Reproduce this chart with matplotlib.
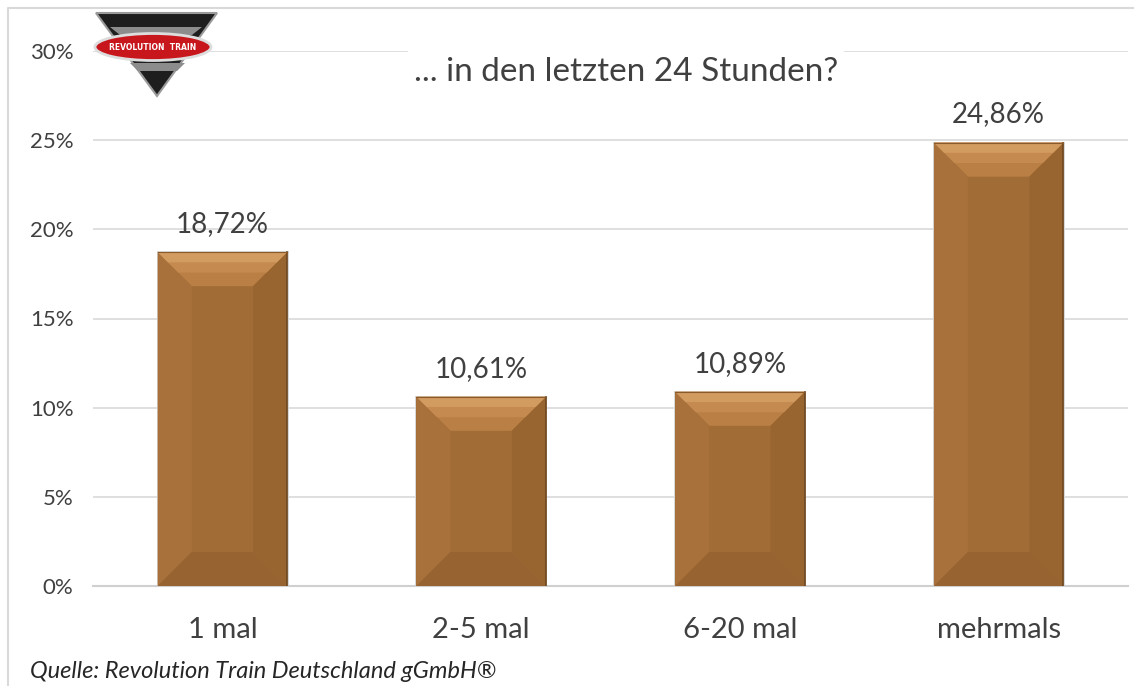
import numpy as np
import matplotlib
matplotlib.use("Agg")
import matplotlib.pyplot as plt
from matplotlib.patches import Polygon, Ellipse, Rectangle

categories = ["1 mal", "2-5 mal", "6-20 mal", "mehrmals"]
values = [18.72, 10.61, 10.89, 24.86]
labels = ["18,72%", "10,61%", "10,89%", "24,86%"]
yticks = [0, 5, 10, 15, 20, 25, 30]
title = "... in den letzten 24 Stunden?"
source = "Quelle: Revolution Train Deutschland gGmbH®"

plt.rcParams["font.family"] = ["Lato", "DejaVu Sans"]
txt = "#404040"

fig = plt.figure(figsize=(11.34, 6.86), dpi=100)
W, H = 1134, 686
ax = fig.add_axes([93 / W, 1 - 586 / H, (1128 - 93) / W, (586 - 51) / H])
ax.set_xlim(-0.5, 3.5)
ax.set_ylim(0, 30)

# pixel -> data scale for the bevel
px_x = 4.0 / (1128 - 93)
px_y = 30.0 / (586 - 51)
bx, by = 34 * px_x, 34 * px_y
w = 0.5

for i, v in enumerate(values):
    x0, x1 = i - w / 2, i + w / 2
    b = min(by, v / 2)
    parts = [
        ([(x0, 0), (x1, 0), (x1, v), (x0, v)], "#a26c37"),
        ([(x0, v), (x1, v), (x1 - bx, v - b), (x0 + bx, v - b)], "#b97f45"),
        ([(x0, 0), (x0, v), (x0 + bx, v - b), (x0 + bx, b)], "#a8713b"),
        ([(x1, 0), (x1, v), (x1 - bx, v - b), (x1 - bx, b)], "#98642f"),
        ([(x0, 0), (x1, 0), (x1 - bx, b), (x0 + bx, b)], "#976331"),
    ]
    # soft shadow
    ax.add_patch(Rectangle((x0 - 0.004, 0), w + 0.010, v + 0.06,
                           facecolor="#d8d8d8", edgecolor="none", zorder=2))
    for pts, c in parts:
        ax.add_patch(Polygon(pts, closed=True, facecolor=c, edgecolor="none", zorder=3))
    # lighter strips near the top edge
    for f, c in [(0.6, "#c48a4f"), (0.3, "#d29b60")]:
        ax.add_patch(Polygon([(x0 + bx * (1 - f) * 0, v), (x1, v),
                              (x1 - bx * f, v - b * f), (x0 + bx * f, v - b * f)],
                             closed=True, facecolor=c, edgecolor="none", zorder=3))
    ax.plot([x1, x1], [0, v], color="#6e4620", lw=1.2, zorder=4)
    ax.plot([x0, x1], [v, v], color="#8a5a2a", lw=0.8, zorder=4)
    ax.text(i, v + 0.85, labels[i], ha="center", va="bottom", fontsize=20, color=txt)

ax.set_xticks(range(len(categories)))
ax.set_xticklabels(categories, fontsize=21, color=txt)
ax.set_yticks(yticks)
ax.set_yticklabels([f"{t}%" for t in yticks], fontsize=16, color=txt)
ax.tick_params(axis="both", length=0)
ax.tick_params(axis="x", pad=22)
ax.tick_params(axis="y", pad=14)
ax.grid(axis="y", color="#d9d9d9", lw=1.2, zorder=0)
ax.set_axisbelow(True)
for s in ["top", "right", "left"]:
    ax.spines[s].set_visible(False)
ax.spines["bottom"].set_color("#d0d0d0")
ax.spines["bottom"].set_linewidth(1.5)

# overlay in pixel coordinates for frame, title box and logo
ov = fig.add_axes([0, 0, 1, 1], zorder=5)
ov.set_xlim(0, W)
ov.set_ylim(H, 0)
ov.axis("off")
ov.patch.set_alpha(0)
ov.plot([8, 8, W + 5], [H + 5, 8, 8], color="#d9d9d9", lw=1.5)
ov.text(626, 72, title, ha="center", va="center", fontsize=24, color=txt,
        bbox=dict(facecolor="white", edgecolor="none", pad=4))
ov.text(30, 672, source, ha="left", va="center", fontsize=17, style="italic", color="#262626")

# logo
ov.add_patch(Polygon([(96, 13), (217, 13), (157, 96)], closed=True,
                     facecolor="#1e1e1e", edgecolor="#9a9a9a", lw=1.5))
ov.add_patch(Polygon([(110, 27), (202, 27), (192, 35), (120, 35)], closed=True,
                     facecolor="#8c8c8c", edgecolor="none"))
ov.add_patch(Polygon([(130, 63), (185, 63), (177, 71), (138, 71)], closed=True,
                     facecolor="#8c8c8c", edgecolor="none"))
ov.add_patch(Ellipse((153, 47), 116, 27, facecolor="#c8161d", edgecolor="#dddddd", lw=2))
ov.text(153, 47, "REVOLUTION  TRAIN", ha="center", va="center", fontsize=5.5,
        color="white", weight="bold", family="DejaVu Sans")

fig.savefig("out.png", dpi=100, facecolor="white")
